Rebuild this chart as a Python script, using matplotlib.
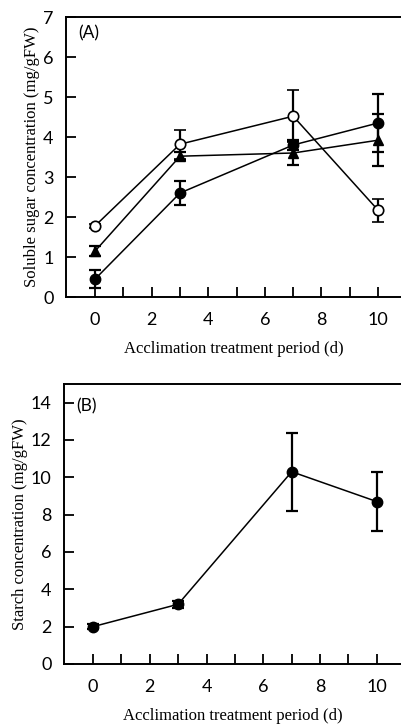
import matplotlib
matplotlib.use("Agg")
import matplotlib.pyplot as plt

days = [0, 3, 7, 10]

# panel A: soluble sugar (mg/gFW)
sugar_open = [1.78, 3.82, 4.52, 2.17]
sugar_open_err = [0.05, 0.36, 0.65, 0.29]
sugar_filled = [0.45, 2.6, 3.8, 4.35]
sugar_filled_err = [0.23, 0.3, 0.12, 0.72]
sugar_tri = [1.15, 3.52, 3.6, 3.92]
sugar_tri_err = [0.13, 0.1, 0.3, 0.65]

# panel B: starch (mg/gFW)
starch = [2.0, 3.2, 10.3, 8.7]
starch_err = [0.12, 0.2, 2.1, 1.6]

xticks = list(range(11))
xticklabels = ["0", "", "2", "", "4", "", "6", "", "8", "", "10"]

plt.rcParams["font.family"] = ["Lato", "DejaVu Sans"]
serif = "Liberation Serif"

fig = plt.figure(figsize=(4.01, 7.24), dpi=100)
axA = fig.add_axes([66 / 401, (724 - 297) / 724, 335 / 401, 280 / 724])
axB = fig.add_axes([64 / 401, (724 - 664) / 724, 337 / 401, 280 / 724])


def style(ax, xlim, ylim, yticks, ylabel, tag, tagy):
    ax.set_xlim(*xlim)
    ax.set_ylim(*ylim)
    ax.set_xticks(xticks)
    ax.set_xticklabels(xticklabels)
    ax.set_yticks(yticks)
    ax.tick_params(direction="in", length=7, width=1.3, labelsize=13, pad=11)
    ax.tick_params(axis="y", pad=9)
    ax.spines["right"].set_visible(False)
    for s in ["left", "bottom", "top"]:
        ax.spines[s].set_linewidth(1.4)
    ax.set_ylabel(ylabel, family=serif, fontsize=12, labelpad=2)
    ax.set_xlabel("Acclimation treatment period (d)", family=serif, fontsize=12, labelpad=9)
    ax.text(-0.6, tagy, tag, fontsize=12.5, va="center", ha="left")


eb = dict(color="black", lw=1.1, elinewidth=1.6, capsize=4, capthick=1.6, ms=7.5)
axA.errorbar(days, sugar_filled, yerr=sugar_filled_err, fmt="-o", mfc="black", mec="black", **eb)
axA.errorbar(days, sugar_tri, yerr=sugar_tri_err, fmt="-^", mfc="black", mec="black", **eb)
axA.errorbar(days, sugar_open, yerr=sugar_open_err, fmt="-o", mfc="white", mec="black", mew=1.2, **eb, zorder=4)
style(axA, (-1.03, 10.81), (0, 7), range(0, 8), "Soluble sugar concentration (mg/gFW)", "(A)", 6.6)

axB.errorbar(days, starch, yerr=starch_err, fmt="-o", mfc="black", mec="black", **eb)
style(axB, (-1.02, 10.85), (0, 15), range(0, 15, 2), "Starch concentration (mg/gFW)", "(B)", 13.8)

fig.savefig("out.png", dpi=100)
